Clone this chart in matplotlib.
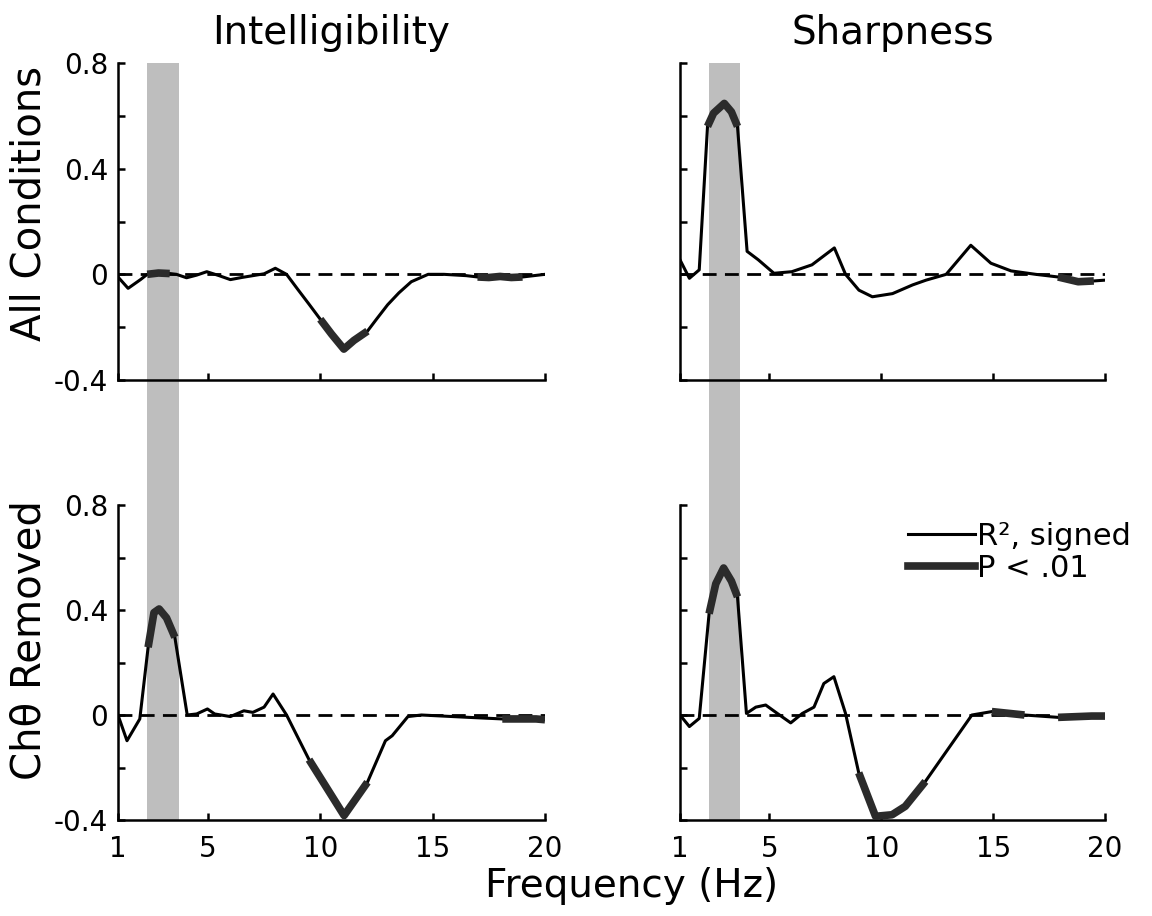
import matplotlib
matplotlib.use("Agg")
import matplotlib.pyplot as plt
import matplotlib.transforms as mtransforms
from matplotlib.patches import Rectangle
from matplotlib.lines import Line2D

plt.rcParams['font.family'] = ['DejaVu Sans']

# --- data (frequency in Hz, signed R^2) ---
# Intelligibility, all conditions
freq_ia = [1.0, 1.45, 2.0, 2.3, 2.8, 3.3, 3.6, 4.05, 4.5, 4.95, 5.5, 6.0, 6.5, 7.0, 7.5,
           8.0, 8.5, 9.0, 9.5, 10.0, 10.5, 11.05, 11.5, 12.1, 12.5, 13.0, 13.5, 14.05,
           14.8, 15.5, 16.5, 17.0, 17.5, 18.0, 18.5, 19.0, 19.5, 20.0]
r2_ia = [-0.01, -0.053, -0.02, 0.0, 0.005, 0.003, 0.0, -0.013, -0.003, 0.01, -0.005, -0.02,
         -0.012, -0.005, 0.002, 0.023, 0.0, -0.057, -0.113, -0.17, -0.226, -0.283, -0.25,
         -0.215, -0.17, -0.115, -0.07, -0.028, 0.0, 0.0, -0.005, -0.01, -0.012, -0.008,
         -0.012, -0.01, -0.005, 0.0]
sig_ia = [(2.3, 3.3), (10.0, 12.1), (17.0, 19.0)]

# Sharpness, all conditions
freq_sa = [1.0, 1.42, 1.86, 2.23, 2.5, 2.98, 3.3, 3.57, 4.0, 4.5, 5.2, 6.0, 6.9, 7.9, 8.4,
           9.0, 9.6, 10.5, 11.4, 12.0, 12.9, 14.0, 14.9, 15.8, 16.9, 17.9, 18.8, 19.5, 20.0]
r2_sa = [0.055, -0.015, 0.017, 0.56, 0.61, 0.647, 0.615, 0.56, 0.087, 0.055, 0.004, 0.01,
         0.036, 0.1, 0.0, -0.06, -0.085, -0.073, -0.04, -0.022, 0.0, 0.11, 0.042, 0.013,
         0.0, -0.01, -0.028, -0.025, -0.022]
sig_sa = [(2.2, 3.6), (17.9, 19.5)]

# Intelligibility, Ch-theta removed
freq_ir = [1.0, 1.4, 1.97, 2.34, 2.6, 2.83, 3.16, 3.53, 4.08, 4.5, 4.98, 5.3, 6.0, 6.6, 7.0,
           7.5, 7.9, 8.5, 9.5, 11.06, 12.1, 12.9, 13.2, 13.9, 14.5, 16.6, 18.1, 19.6, 20.0]
r2_ir = [0.0, -0.098, -0.015, 0.258, 0.39, 0.404, 0.37, 0.296, 0.0, 0.004, 0.023, 0.004,
         -0.006, 0.016, 0.01, 0.03, 0.08, 0.0, -0.17, -0.383, -0.256, -0.098, -0.079,
         -0.006, 0.0, -0.009, -0.015, -0.015, -0.018]
sig_ir = [(2.34, 3.53), (9.5, 12.1), (18.1, 20.0)]

# Sharpness, Ch-theta removed
freq_sr = [1.0, 1.42, 1.86, 2.3, 2.6, 2.95, 3.3, 3.57, 3.97, 4.39, 4.83, 5.35, 5.95, 6.47,
           6.99, 7.43, 7.88, 8.4, 8.99, 9.74, 10.48, 11.07, 11.97, 14.05, 14.94, 16.4,
           17.9, 19.4, 20.0]
r2_sr = [0.0, -0.044, -0.013, 0.386, 0.5, 0.56, 0.51, 0.45, 0.006, 0.03, 0.038, 0.006,
         -0.03, 0.006, 0.03, 0.12, 0.146, 0.006, -0.22, -0.386, -0.38, -0.348, -0.253,
         0.0, 0.013, 0.0, -0.009, -0.004, -0.004]
sig_sr = [(2.3, 3.57), (8.99, 11.97), (14.94, 16.4), (17.9, 20.0)]

shade_band = (2.3, 3.7)
col_titles = ['Intelligibility', 'Sharpness']
row_labels = ['All Conditions', 'Ch\u03b8 Removed']
x_ticks = [1, 5, 10, 15, 20]
y_ticks = [0.8, 0.6, 0.4, 0.2, 0.0, -0.2, -0.4]
y_ticklabels = ['0.8', '', '0.4', '', '0', '', '-0.4']

panels = [[(freq_ia, r2_ia, sig_ia), (freq_sa, r2_sa, sig_sa)],
          [(freq_ir, r2_ir, sig_ir), (freq_sr, r2_sr, sig_sr)]]

W, H = 1152, 916
fig = plt.figure(figsize=(W / 100, H / 100), dpi=100)

lefts = [118, 680]
widths = [427, 425]
tops = [63, 505]
heights = [317, 315]

axes = [[None, None], [None, None]]
for r in range(2):
    for c in range(2):
        ax = fig.add_axes([lefts[c] / W, 1 - (tops[r] + heights[r]) / H,
                           widths[c] / W, heights[r] / H])
        ax.set_facecolor('none')
        axes[r][c] = ax

for r in range(2):
    for c in range(2):
        ax = axes[r][c]
        freq, r2, sig = panels[r][c]

        ax.plot([1, 20], [0, 0], color='black', lw=2, dashes=(5, 3), zorder=2)
        ax.plot(freq, r2, color='black', lw=2.2, zorder=3)
        for lo, hi in sig:
            xs = [f for f in freq if lo <= f <= hi]
            ys = [v for f, v in zip(freq, r2) if lo <= f <= hi]
            ax.plot(xs, ys, color='#2b2b2b', lw=5.5, solid_capstyle='butt', zorder=4)

        ax.set_xlim(1, 20)
        ax.set_ylim(-0.4, 0.8)
        for s in ['top', 'right']:
            ax.spines[s].set_visible(False)
        for s in ['left', 'bottom']:
            ax.spines[s].set_linewidth(1.8)
        ax.set_xticks(x_ticks)
        ax.set_yticks(y_ticks)
        ax.tick_params(direction='in', length=5, width=1.8, colors='black')
        ax.tick_params(axis='y', labelsize=20, pad=7)
        ax.tick_params(axis='x', labelsize=20, pad=11)
        if c == 0:
            ax.set_yticklabels(y_ticklabels)
        else:
            ax.set_yticklabels([])
        if r == 0:
            ax.set_xticklabels([])
            ax.set_title(col_titles[c], fontsize=28, pad=14)

# grey band running through both rows of each column
for c in range(2):
    ax = axes[0][c]
    blend = mtransforms.blended_transform_factory(ax.transData, fig.transFigure)
    y0 = 1 - (tops[1] + heights[1]) / H
    y1 = 1 - tops[0] / H
    ax.add_patch(Rectangle((shade_band[0], y0), shade_band[1] - shade_band[0], y1 - y0,
                           transform=blend, facecolor='#bebebe', edgecolor='none',
                           clip_on=False, zorder=0))

fig.text(30 / W, 1 - 203 / H, row_labels[0], rotation=90, ha='center', va='center', fontsize=29)
fig.text(30 / W, 1 - 640 / H, row_labels[1], rotation=90, ha='center', va='center', fontsize=29)
fig.text(632 / W, 1 - 897 / H, 'Frequency (Hz)', ha='center', va='baseline', fontsize=28)

handles = [Line2D([], [], color='black', lw=2.2),
           Line2D([], [], color='#2b2b2b', lw=5.5)]
fig.legend(handles, ['R\u00b2, signed', 'P < .01'], loc='upper left',
           bbox_to_anchor=(908 / W, 1 - 522 / H), frameon=False, fontsize=22,
           handlelength=2.2, handletextpad=0.05, labelspacing=0.1,
           borderpad=0, borderaxespad=0)

fig.savefig('out.png', dpi=100)
